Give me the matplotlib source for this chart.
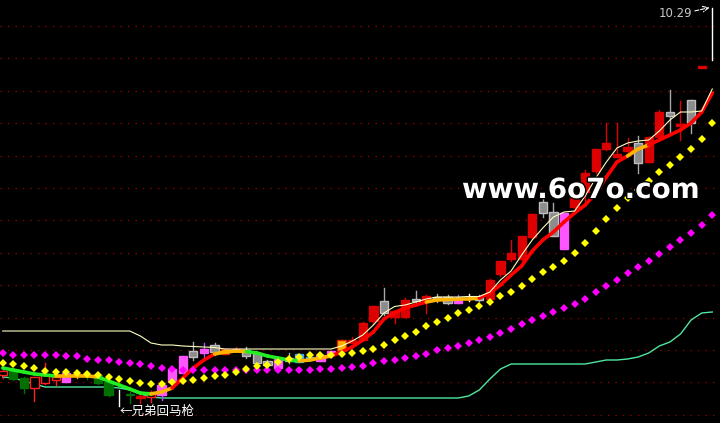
import numpy as np
import matplotlib
matplotlib.use('Agg')
import matplotlib.pyplot as plt
from matplotlib.patches import Rectangle
from matplotlib.collections import LineCollection
import matplotlib.patheffects as pe

# daily bars (price units)
opens = [2.95, 3.03, 2.89, 2.69, 2.79, 2.85, 2.81, 2.95, 2.93, 2.95,
         2.81, 2.57, 2.57, 2.50, 2.51, 2.55, 2.81, 2.99, 3.43, 3.39,
         3.55, 3.37, 3.45, 3.45, 3.39, 3.23, 3.09, 3.29, 3.21, 3.25,
         3.23, 3.37, 3.43, 3.59, 3.65, 4.03, 4.43, 4.11, 4.11, 4.47,
         4.43, 4.51, 4.51, 4.39, 4.50, 4.51, 4.47, 4.97, 5.27, 5.27,
         5.71, 6.41, 6.21, 5.47, 6.31, 6.61, 7.03, 7.47, 7.31, 7.43,
         7.59, 7.21, 7.71, 8.21, 7.93, 8.45, 9.09, 9.25]
highs = [3.05, 3.05, 2.91, 2.91, 3.19, 2.93, 3.01, 3.03, 3.03, 2.97,
         2.83, 2.65, 2.61, 2.59, 2.63, 2.75, 3.09, 3.33, 3.61, 3.59,
         3.59, 3.47, 3.51, 3.51, 3.41, 3.25, 3.27, 3.39, 3.37, 3.31,
         3.35, 3.43, 3.65, 3.71, 4.01, 4.33, 4.69, 4.23, 4.49, 4.63,
         4.55, 4.57, 4.55, 4.55, 4.57, 4.55, 4.87, 5.23, 5.65, 5.73,
         6.17, 6.55, 6.39, 6.19, 6.57, 7.05, 7.47, 7.99, 7.99, 7.69,
         7.73, 7.71, 8.25, 8.65, 8.43, 8.45, 9.09, 10.29]
lows = [2.89, 2.85, 2.59, 2.43, 2.77, 2.75, 2.81, 2.89, 2.87, 2.77,
        2.53, 2.33, 2.39, 2.39, 2.41, 2.45, 2.81, 2.99, 3.25, 3.25,
        3.35, 3.37, 3.41, 3.29, 3.15, 3.11, 3.09, 3.19, 3.21, 3.25,
        3.23, 3.31, 3.43, 3.59, 3.65, 3.99, 4.15, 3.99, 4.11, 4.41,
        4.19, 4.41, 4.37, 4.39, 4.43, 4.43, 4.45, 4.93, 5.23, 5.23,
        5.69, 6.11, 5.73, 5.47, 6.21, 6.37, 6.99, 7.45, 7.31, 7.35,
        6.99, 7.21, 7.71, 7.75, 7.65, 7.79, 9.09, 9.25]
closes = [3.03, 2.87, 2.69, 2.91, 2.95, 2.91, 2.99, 2.97, 2.95, 2.79,
          2.55, 2.56, 2.55, 2.51, 2.61, 2.75, 3.07, 3.33, 3.31, 3.47,
          3.41, 3.47, 3.46, 3.33, 3.19, 3.15, 3.27, 3.23, 3.37, 3.31,
          3.35, 3.43, 3.65, 3.65, 3.99, 4.33, 4.19, 4.23, 4.45, 4.43,
          4.53, 4.47, 4.39, 4.45, 4.50, 4.45, 4.85, 5.23, 5.39, 5.73,
          6.17, 6.19, 5.73, 6.19, 6.57, 6.99, 7.47, 7.59, 7.37, 7.51,
          7.19, 7.71, 8.21, 8.13, 7.94, 7.99, 9.09, 9.25]
# bar colour codes: R hollow red, r red, g green, k grey, m magenta, o orange, c cyan, w white
bar_kind = ['R', 'g', 'g', 'R', 'R', 'R', 'm', 'o', 'g', 'g',
            'g', 'w', 'g', 'r', 'R', 'm', 'm', 'm', 'k', 'm',
            'k', 'o', 'r', 'k', 'k', 'k', 'm', 'k', 'c', 'c',
            'm', 'm', 'o', 'r', 'r', 'r', 'k', 'r', 'r', 'k',
            'r', 'k', 'k', 'm', 'w', 'k', 'r', 'r', 'r', 'r',
            'r', 'k', 'k', 'm', 'r', 'r', 'r', 'r', 'r', 'r',
            'k', 'r', 'r', 'k', 'r', 'k', 'r', 'w']

# thick trend line and its colour between bars (g falling, y flat, r rising)
trend = [3.09, 3.05, 3.01, 2.97, 2.95, 2.93, 2.93, 2.93, 2.93, 2.91,
         2.83, 2.75, 2.67, 2.59, 2.57, 2.61, 2.69, 2.89, 3.09, 3.25,
         3.37, 3.41, 3.43, 3.42, 3.39, 3.33, 3.29, 3.25, 3.23, 3.25,
         3.29, 3.33, 3.41, 3.51, 3.65, 3.81, 4.07, 4.20, 4.29, 4.35,
         4.41, 4.45, 4.46, 4.47, 4.47, 4.49, 4.59, 4.75, 4.95, 5.13,
         5.43, 5.65, 5.81, 6.01, 6.19, 6.35, 6.59, 6.91, 7.21, 7.33,
         7.47, 7.55, 7.65, 7.75, 7.85, 7.99, 8.21, 8.59]
trend_col = ('ggggg' 'yyyy' 'ggggg' 'yy' 'rrrr' 'yyy' 'ggggg' 'yyy'
             'rrrrrrrrr' 'yyyyy' 'rrrrrrrrrrrrrr' 'yy' 'rrrrrr')

upper_line = [3.83, 3.83, 3.83, 3.83, 3.83, 3.83, 3.83, 3.83, 3.83, 3.83,
              3.83, 3.83, 3.83, 3.73, 3.59, 3.55, 3.55, 3.53, 3.52, 3.51,
              3.50, 3.47, 3.47, 3.47, 3.47, 3.47, 3.47, 3.47, 3.47, 3.47,
              3.47, 3.47, 3.53, 3.63, 3.75, 3.95, 4.19, 4.32, 4.35, 4.41,
              4.47, 4.51, 4.51, 4.51, 4.52, 4.52, 4.61, 4.85, 5.03, 5.35,
              5.65, 5.89, 6.11, 6.21, 6.23, 6.53, 6.89, 7.21, 7.49, 7.59,
              7.63, 7.65, 7.83, 8.05, 8.21, 8.21, 8.23, 8.67]
lower_line = [2.91, 2.89, 2.83, 2.77, 2.71, 2.71, 2.71, 2.71, 2.71, 2.71,
              2.71, 2.69, 2.65, 2.57, 2.51, 2.49, 2.49, 2.49, 2.49, 2.49,
              2.49, 2.49, 2.49, 2.49, 2.49, 2.49, 2.49, 2.49, 2.49, 2.49,
              2.49, 2.49, 2.49, 2.49, 2.49, 2.49, 2.49, 2.49, 2.49, 2.49,
              2.49, 2.49, 2.49, 2.49, 2.53, 2.65, 2.87, 3.07, 3.17, 3.17,
              3.17, 3.17, 3.17, 3.17, 3.17, 3.17, 3.21, 3.25, 3.25, 3.27,
              3.31, 3.39, 3.53, 3.61, 3.77, 4.05, 4.19, 4.21]

yellow_dots = [3.19, 3.16, 3.12, 3.08, 3.03, 3.00, 3.00, 2.99, 2.98, 2.95,
               2.92, 2.87, 2.84, 2.80, 2.78, 2.78, 2.81, 2.83, 2.85, 2.90,
               2.93, 2.96, 3.01, 3.07, 3.12, 3.15, 3.21, 3.27, 3.31, 3.35,
               3.35, 3.36, 3.37, 3.38, 3.42, 3.47, 3.55, 3.64, 3.72, 3.81,
               3.92, 4.02, 4.10, 4.18, 4.25, 4.32, 4.41, 4.52, 4.60, 4.72,
               4.86, 5.00, 5.10, 5.22, 5.38, 5.58, 5.82, 6.06, 6.28, 6.48,
               6.65, 6.82, 7.00, 7.15, 7.30, 7.46, 7.67, 7.98]
magenta_dots = [3.38, 3.36, 3.35, 3.35, 3.35, 3.35, 3.33, 3.33, 3.28, 3.26,
                3.24, 3.20, 3.18, 3.16, 3.12, 3.08, 3.06, 3.05, 3.05, 3.04,
                3.04, 3.04, 3.04, 3.04, 3.04, 3.04, 3.04, 3.04, 3.04, 3.05,
                3.06, 3.07, 3.08, 3.10, 3.13, 3.18, 3.22, 3.25, 3.30, 3.34,
                3.37, 3.44, 3.48, 3.52, 3.58, 3.64, 3.70, 3.78, 3.86, 3.96,
                4.05, 4.13, 4.20, 4.28, 4.37, 4.47, 4.60, 4.72, 4.85, 4.98,
                5.10, 5.22, 5.37, 5.50, 5.64, 5.78, 5.95, 6.14]

high_label = '10.29'
signal_label = '←兄弟回马枪'
watermark = 'www.6o7o.com'

body_face = {'R': 'black', 'r': '#DD0000', 'g': '#007000', 'k': '#8C8C8C',
             'm': '#FF55FF', 'o': '#FFB000', 'c': '#3AA8FF', 'w': 'white'}
body_edge = {'R': '#FF2020', 'r': '#DD0000', 'g': '#007000', 'k': '#BEBEBE',
             'm': '#FF55FF', 'o': '#E02000', 'c': '#3AA8FF', 'w': 'white'}
wick_col = {'R': '#FF2020', 'r': '#DD0000', 'g': '#007000', 'k': '#A8A8A8',
            'm': '#B050FF', 'o': '#FFB000', 'c': '#3AA8FF', 'w': 'white'}
seg_col = {'g': '#22EE22', 'y': '#FFB400', 'r': '#FF0000'}

x = np.arange(len(closes))

fig = plt.figure(figsize=(7.2, 4.23), dpi=100, facecolor='black')
ax = fig.add_axes([0, 0, 1, 1])
ax.set_facecolor('black')
ax.set_xlim(-0.255, 67.73)
ax.set_ylim(1.99, 10.45)
ax.axis('off')

for lv in 9.93 - 0.648 * np.arange(13):
    ax.axhline(lv, color='#A00000', lw=0.9, ls=(0, (1, 5)), zorder=1)

ax.plot(x, lower_line, color='#50E6A0', lw=1.0, zorder=2)
ax.plot(x, upper_line, color='#FFFFC0', lw=0.8, zorder=5)

w = 0.78
for i in x:
    k = bar_kind[i]
    ax.plot([i, i], [lows[i], highs[i]], color=wick_col[k], lw=1.0, zorder=3)
    lo = min(opens[i], closes[i])
    h = max(abs(closes[i] - opens[i]), 0.03)
    if k == 'w' and h <= 0.03:
        continue
    ax.add_patch(Rectangle((i - w / 2, lo), w, h, facecolor=body_face[k],
                           edgecolor=body_edge[k], lw=1.0, zorder=3))

pts = np.column_stack([x, trend])
segs = np.stack([pts[:-1], pts[1:]], axis=1)
ax.add_collection(LineCollection(segs, colors=[seg_col[c] for c in trend_col],
                                 linewidths=2.6, capstyle='round', zorder=4))

ax.plot(x, magenta_dots, ls='none', marker='D', ms=4.0, mew=0, color='#FF00FF', zorder=6)
ax.plot(x, yellow_dots, ls='none', marker='D', ms=4.0, mew=0, color='#FFFF00', zorder=6)

# high marker at the last bar
ax.text(61.9, 10.18, high_label, color='#C8C8C8', fontsize=8.5,
        ha='left', va='center', zorder=7)
ax.annotate('', xy=(67.0, 10.31), xytext=(65.1, 10.22),
            arrowprops=dict(arrowstyle='->', color='white', lw=0.8, ls='--'), zorder=7)

ax.text(11.0, 2.23, signal_label, color='white', fontsize=9,
        family=['Noto Sans CJK SC', 'DejaVu Sans'], ha='left', va='center', zorder=7)

ax.text(54.6, 6.65, watermark, color='white', fontsize=20, fontweight='bold',
        ha='center', va='center', zorder=8,
        path_effects=[pe.withStroke(linewidth=2, foreground='black')])

fig.savefig('out.png', dpi=100, facecolor='black')
